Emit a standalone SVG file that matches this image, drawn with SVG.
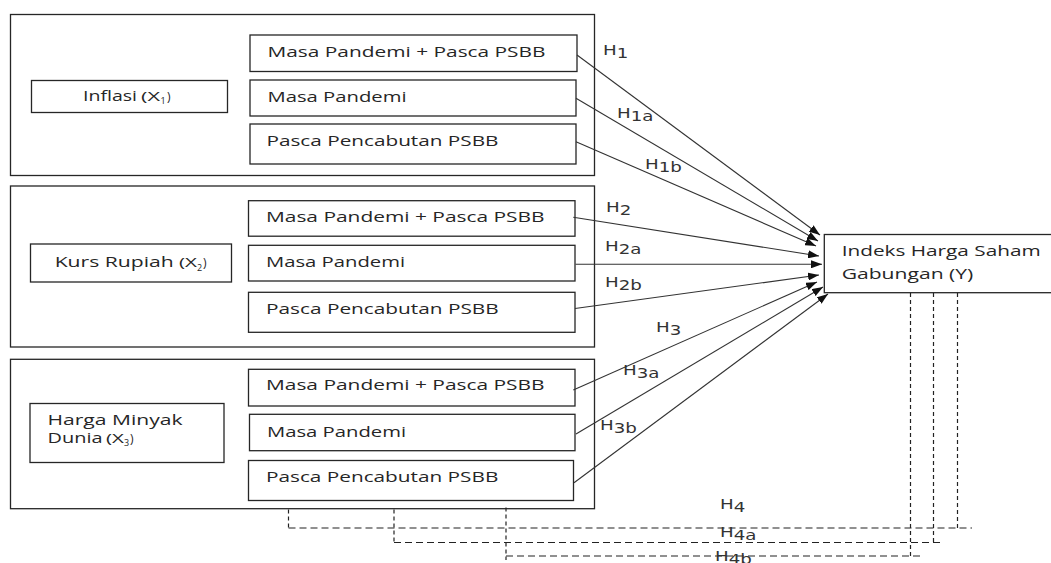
<svg xmlns="http://www.w3.org/2000/svg" width="1051" height="563" viewBox="0 0 1051 563">
<defs>
<style>
.box{fill:#fff;stroke:#262626;stroke-width:1.3}
.t{font-family:"Open Sans","Liberation Sans",sans-serif;font-size:14px;fill:#262626}
.s{font-family:"Open Sans","Liberation Sans",sans-serif;font-size:12px;fill:#262626}
.sub{font-family:"Open Sans","Liberation Sans",sans-serif;font-size:9px;fill:#262626}
.h{font-family:"DejaVu Sans","Liberation Sans",sans-serif;font-size:13.5px;fill:#333}
.conn{stroke:#333;stroke-width:1.1;fill:none;marker-end:url(#ah)}
.dh{stroke:#222;stroke-width:1.2;fill:none;stroke-dasharray:7 4}
.dv{stroke:#222;stroke-width:1.2;fill:none;stroke-dasharray:4 3}
</style>
<marker id="ah" markerWidth="11" markerHeight="8" refX="11" refY="4" orient="auto" markerUnits="userSpaceOnUse">
<path d="M0,0 L11,4 L0,8 z" fill="#111"/>
</marker>
</defs>
<rect width="1051" height="563" fill="#fff"/>

<g id="group-x1">
<rect class="box" x="10.5" y="14.5" width="584" height="161"/>
<g id="x1"><rect class="box" x="31.5" y="80.5" width="196" height="32"/>
<text class="t" x="83" y="101" textLength="54" lengthAdjust="spacingAndGlyphs">Inflasi</text>
<text class="s" x="141" y="101" textLength="19" lengthAdjust="spacingAndGlyphs">(X</text>
<text class="sub" x="160.5" y="104">1</text>
<text class="s" x="167" y="101">)</text></g>
<g id="x1-all"><rect class="box" x="250" y="35" width="327" height="36.5"/>
<text class="t" x="267.5" y="57.3" textLength="278" lengthAdjust="spacingAndGlyphs">Masa Pandemi + Pasca PSBB</text></g>
<g id="x1-pandemi"><rect class="box" x="250" y="80" width="326" height="36"/>
<text class="t" x="267.5" y="101.7" textLength="139" lengthAdjust="spacingAndGlyphs">Masa Pandemi</text></g>
<g id="x1-pasca"><rect class="box" x="250" y="124" width="326" height="40"/>
<text class="t" x="266.5" y="145.7" textLength="232" lengthAdjust="spacingAndGlyphs">Pasca Pencabutan PSBB</text></g>
</g>

<g id="group-x2">
<rect class="box" x="10.5" y="186" width="584" height="161"/>
<g id="x2"><rect class="box" x="30.5" y="244" width="201" height="38"/>
<text class="t" x="54.7" y="267.3" textLength="119" lengthAdjust="spacingAndGlyphs">Kurs Rupiah</text>
<text class="s" x="179" y="267.3" textLength="18" lengthAdjust="spacingAndGlyphs">(X</text>
<text class="sub" x="197" y="270.5">2</text>
<text class="s" x="203" y="267.3">)</text></g>
<g id="x2-all"><rect class="box" x="248.5" y="200.7" width="326.5" height="35.5"/>
<text class="t" x="266" y="221.7" textLength="278.6" lengthAdjust="spacingAndGlyphs">Masa Pandemi + Pasca PSBB</text></g>
<g id="x2-pandemi"><rect class="box" x="248.5" y="245.3" width="326.5" height="35.7"/>
<text class="t" x="266" y="267.3" textLength="139" lengthAdjust="spacingAndGlyphs">Masa Pandemi</text></g>
<g id="x2-pasca"><rect class="box" x="248.5" y="292.3" width="326.5" height="40"/>
<text class="t" x="266" y="314.3" textLength="232.7" lengthAdjust="spacingAndGlyphs">Pasca Pencabutan PSBB</text></g>
</g>

<g id="group-x3">
<rect class="box" x="10.5" y="359.3" width="584" height="149.4"/>
<g id="x3"><rect class="box" x="30" y="403.5" width="194" height="59"/>
<text class="t" x="47.5" y="425" textLength="135" lengthAdjust="spacingAndGlyphs">Harga Minyak</text>
<text class="t" x="47.5" y="443" textLength="55" lengthAdjust="spacingAndGlyphs">Dunia</text>
<text class="s" x="106" y="443" textLength="18" lengthAdjust="spacingAndGlyphs">(X</text>
<text class="sub" x="124" y="446">3</text>
<text class="s" x="130" y="443">)</text></g>
<g id="x3-all"><rect class="box" x="248.5" y="369.3" width="326.5" height="36.7"/>
<text class="t" x="266" y="390" textLength="278.6" lengthAdjust="spacingAndGlyphs">Masa Pandemi + Pasca PSBB</text></g>
<g id="x3-pandemi"><rect class="box" x="249.5" y="414.3" width="325.5" height="36.4"/>
<text class="t" x="267" y="436.7" textLength="139" lengthAdjust="spacingAndGlyphs">Masa Pandemi</text></g>
<g id="x3-pasca"><rect class="box" x="248.5" y="460.5" width="325" height="40"/>
<text class="t" x="266" y="482.3" textLength="232.3" lengthAdjust="spacingAndGlyphs">Pasca Pencabutan PSBB</text></g>
</g>

<g id="y">
<rect class="box" x="824.3" y="234.5" width="240" height="58.2"/>
<text class="t" x="841.7" y="256" textLength="199" lengthAdjust="spacingAndGlyphs">Indeks Harga Saham</text>
<text class="t" x="841.7" y="279.3" textLength="131.6" lengthAdjust="spacingAndGlyphs">Gabungan (Y)</text>
</g>

<g id="connectors">
<line class="conn" x1="577" y1="55" x2="820" y2="235"/>
<line class="conn" x1="576" y1="98.3" x2="818" y2="241"/>
<line class="conn" x1="576" y1="141.7" x2="816" y2="246"/>
<line class="conn" x1="573.3" y1="217.3" x2="819" y2="256"/>
<line class="conn" x1="575.5" y1="264.3" x2="822" y2="264.3"/>
<line class="conn" x1="575" y1="308.5" x2="819" y2="275"/>
<line class="conn" x1="573.3" y1="390" x2="817" y2="282"/>
<line class="conn" x1="576" y1="434" x2="823" y2="287"/>
<line class="conn" x1="574" y1="482.7" x2="828" y2="294"/>

<path class="dv" d="M288.5,509.5 V528 M394,509.5 V542.5 M506,507.5 V560"/>
<path class="dv" d="M957.5,293 V528 M933.5,293 V542.5 M910.5,293 V556"/>
<path class="dh" d="M288.5,528 H972 M394,542.5 H942 M506,556 H921"/>
</g>

<g id="labels">
<text class="h" transform="translate(603,55) scale(1.35,1)">H<tspan dy="3">1</tspan></text>
<text class="h" transform="translate(617,118) scale(1.35,1)">H<tspan dy="3">1a</tspan></text>
<text class="h" transform="translate(645,169) scale(1.35,1)">H<tspan dy="3">1b</tspan></text>
<text class="h" transform="translate(606,212) scale(1.35,1)">H<tspan dy="3">2</tspan></text>
<text class="h" transform="translate(605,251) scale(1.35,1)">H<tspan dy="3">2a</tspan></text>
<text class="h" transform="translate(605,287) scale(1.35,1)">H<tspan dy="3">2b</tspan></text>
<text class="h" transform="translate(656,332) scale(1.35,1)">H<tspan dy="3">3</tspan></text>
<text class="h" transform="translate(623,375) scale(1.35,1)">H<tspan dy="3">3a</tspan></text>
<text class="h" transform="translate(600,430) scale(1.35,1)">H<tspan dy="3">3b</tspan></text>
<text class="h" transform="translate(720,509) scale(1.35,1)">H<tspan dy="3">4</tspan></text>
<text class="h" transform="translate(720,537) scale(1.35,1)">H<tspan dy="3">4a</tspan></text>
<text class="h" transform="translate(715,561) scale(1.35,1)">H<tspan dy="3">4b</tspan></text>
</g>
</svg>
